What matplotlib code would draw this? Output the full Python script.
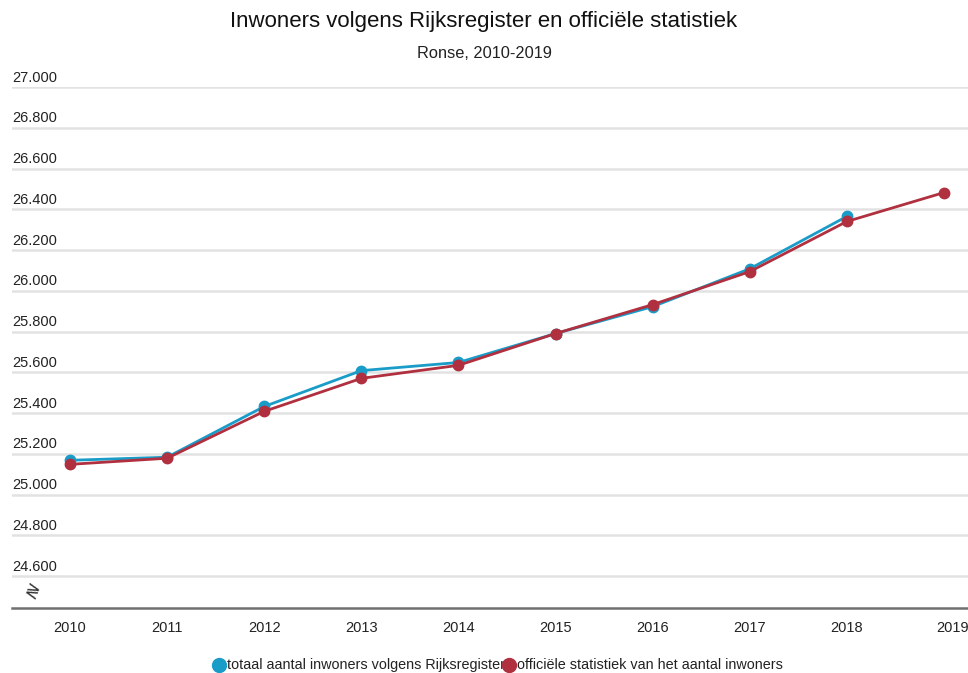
import matplotlib
matplotlib.use("Agg")
import matplotlib.pyplot as plt
import matplotlib.transforms as mtransforms
from matplotlib.lines import Line2D

plt.rcParams['font.family'] = ['Liberation Sans', 'DejaVu Sans']

years = [2010, 2011, 2012, 2013, 2014, 2015, 2016, 2017, 2018, 2019]
# totaal aantal inwoners volgens Rijksregister (no value for 2019)
rijksregister = [25168, 25183, 25432, 25608, 25648, 25790, 25922, 26108, 26365]
# officiele statistiek
officieel = [25148, 25178, 25408, 25570, 25634, 25790, 25932, 26094, 26340, 26482]
yticks = [24600, 24800, 25000, 25200, 25400, 25600, 25800, 26000, 26200, 26400, 26600, 26800, 27000]

blue = '#1a9cc8'
red = '#b0303f'

fig = plt.figure(figsize=(9.68, 6.73), dpi=100)
ax = fig.add_axes([12 / 968, 65 / 673, 956 / 968, 521 / 673])

ax.set_xlim(2009.403, 2019.247)
ax.set_ylim(24443, 27000)

for t in yticks:
    ax.axhline(t, color='#e2e2e2', lw=1.8, zorder=0)
    ax.text(0.0, t + 12, f"{t:,}".replace(',', '.'), transform=ax.get_yaxis_transform(),
            ha='left', va='bottom', fontsize=10.5, color='#222222')

ax.plot(years[:len(rijksregister)], rijksregister, color=blue, lw=2, marker='o', ms=7.5, zorder=3, clip_on=False)
ax.plot(years, officieel, color=red, lw=2, marker='o', ms=7.5, zorder=4, clip_on=False)

ax.set_xticks(years)
ax.set_xticklabels([str(y) for y in years], fontsize=10.5, color='#222222')
ax.tick_params(axis='x', length=0, pad=9)
# last label is pushed to the right and cut by the edge
last = ax.get_xticklabels()[-1]
last.set_transform(last.get_transform() + mtransforms.ScaledTranslation(9 / 100, 0, fig.dpi_scale_trans))
ax.set_yticks([])
for s in ['top', 'left', 'right']:
    ax.spines[s].set_visible(False)
ax.spines['bottom'].set_color('#707070')
ax.spines['bottom'].set_linewidth(1.8)

# axis break symbol
ax.text(2009.6, 24520, '≷', fontsize=13, ha='center', va='center', color='#333333', rotation=-20)

fig.text(0.5, 1 - 22 / 673, 'Inwoners volgens Rijksregister en officiële statistiek',
         ha='center', va='center', fontsize=16, color='#111111')
fig.text(0.5, 1 - 53 / 673, 'Ronse, 2010-2019', ha='center', va='center', fontsize=11.8, color='#222222')

# legend
ly = 1 - 665 / 673
fig.text(227 / 968, ly, 'totaal aantal inwoners volgens Rijksregister', ha='left', va='center',
         fontsize=10.4, color='#222222')
fig.text(517 / 968, ly, 'officiële statistiek van het aantal inwoners', ha='left', va='center',
         fontsize=10.4, color='#222222')
fig.add_artist(Line2D([219 / 968], [ly], marker='o', ms=10, color=blue, transform=fig.transFigure))
fig.add_artist(Line2D([509 / 968], [ly], marker='o', ms=10, color=red, transform=fig.transFigure, zorder=5))

fig.savefig('out.png', dpi=100)
